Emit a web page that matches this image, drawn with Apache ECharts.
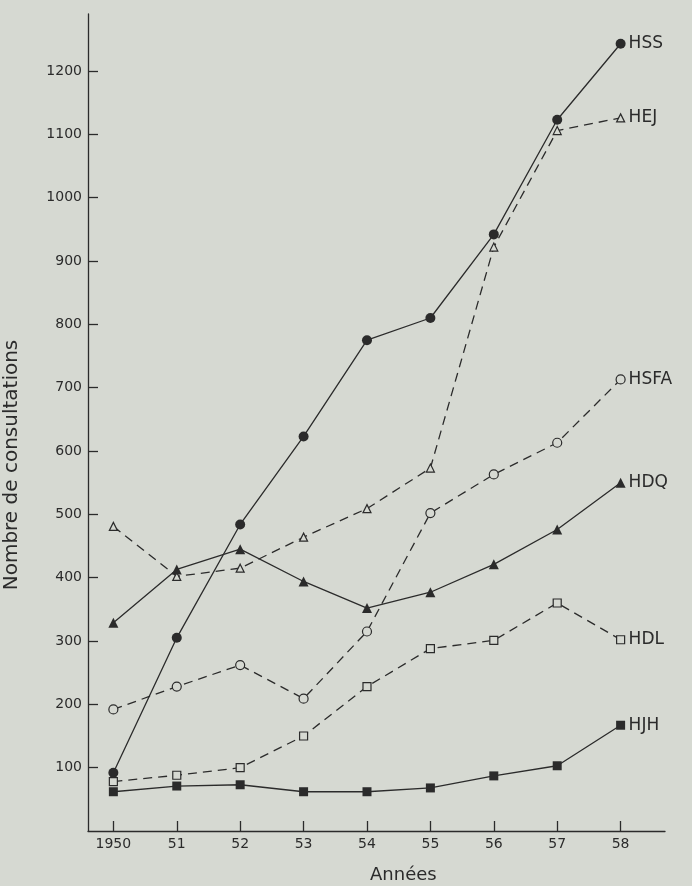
<!DOCTYPE html>
<html>
<head>
<meta charset="utf-8">
<script src="https://cdn.jsdelivr.net/npm/echarts@6/dist/echarts.min.js"></script>
<style>
html,body{margin:0;padding:0;background:#d6d9d2;}
#chart{width:692px;height:886px;}
</style>
</head>
<body>
<div id="chart"></div>
<script>
// ---- data ----
const years = ['1950', '51', '52', '53', '54', '55', '56', '57', '58'];
const yTicks = [100, 200, 300, 400, 500, 600, 700, 800, 900, 1000, 1100, 1200];
const HSS  = [92, 305, 484, 623, 775, 810, 942, 1123, 1243];
const HEJ  = [481, 402, 415, 464, 509, 573, 922, 1106, 1126];
const HSFA = [192, 228, 262, 209, 315, 502, 563, 613, 713];
const HDQ  = [329, 413, 445, 394, 352, 377, 421, 476, 550];
const HDL  = [78, 88, 100, 150, 228, 288, 301, 360, 302];
const HJH  = [62, 71, 73, 62, 62, 68, 87, 103, 167];

const ink = '#2b2b2b';
const bg = '#d6d9d2';
const font = 'DejaVu Sans';

function pts(arr) { return arr.map((v, i) => [i, v]); }

function mk(name, data, symbol, size, filled, dashed) {
  return {
    name: name,
    type: 'line',
    data: pts(data),
    symbol: symbol,
    symbolSize: size,
    showAllSymbol: true,
    animation: false,
    z: filled ? 3 : 2,
    lineStyle: { color: ink, width: 1.3, type: dashed ? [9, 6] : 'solid' },
    itemStyle: filled
      ? { color: ink, borderWidth: 0 }
      : { color: bg, borderColor: ink, borderWidth: 1.2 },
    emphasis: { disabled: true },
    endLabel: {
      show: true,
      formatter: name,
      color: ink,
      fontFamily: font,
      fontSize: 17,
      distance: 8
    }
  };
}

const chart = echarts.init(document.getElementById('chart'), null, { renderer: 'canvas' });
chart.setOption({
  backgroundColor: bg,
  animation: false,
  grid: { left: 88, right: 27, top: 14, bottom: 55 },
  xAxis: {
    type: 'value',
    min: -0.4,
    max: 8.7,
    splitLine: { show: false },
    axisLine: { show: true, onZero: false, lineStyle: { color: ink, width: 1.3 } },
    axisTick: {
      show: true, inside: true, length: 10,
      customValues: years.map((_, i) => i),
      lineStyle: { color: ink, width: 1.3 }
    },
    axisLabel: {
      customValues: years.map((_, i) => i),
      formatter: v => years[Math.round(v)],
      color: ink, fontFamily: font, fontSize: 14, margin: 6
    }
  },
  yAxis: {
    type: 'value',
    min: 0,
    max: 1290,
    splitLine: { show: false },
    axisLine: { show: true, onZero: false, lineStyle: { color: ink, width: 1.3 } },
    axisTick: {
      show: true, inside: true, length: 10,
      customValues: yTicks,
      lineStyle: { color: ink, width: 1.3 }
    },
    axisLabel: {
      customValues: yTicks,
      formatter: v => String(v),
      color: ink, fontFamily: font, fontSize: 14, margin: 6
    }
  },
  graphic: [
    {
      type: 'text',
      left: 370, top: 866,
      style: { text: 'Années', fill: ink, font: '18px "DejaVu Sans"', align: 'center' },
      silent: true
    },
    {
      type: 'text',
      x: 12, y: 465,
      rotation: Math.PI / 2,
      style: { text: 'Nombre de consultations', fill: ink, font: '20px "DejaVu Sans"', align: 'center', verticalAlign: 'middle' },
      silent: true
    }
  ],
  series: [
    mk('HSS', HSS, 'circle', 10, true, false),
    mk('HEJ', HEJ, 'triangle', 8, false, true),
    mk('HSFA', HSFA, 'circle', 9, false, true),
    mk('HDQ', HDQ, 'triangle', 10, true, false),
    mk('HDL', HDL, 'rect', 8, false, true),
    mk('HJH', HJH, 'rect', 9, true, false)
  ]
});
</script>
</body>
</html>
